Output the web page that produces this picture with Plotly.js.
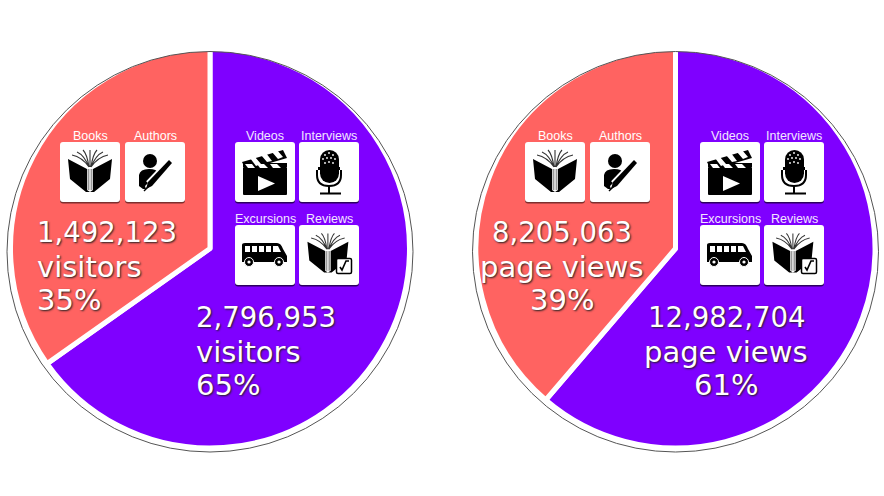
<!DOCTYPE html>
<html><head><meta charset="utf-8">
<script src="https://cdn.plot.ly/plotly-3.0.1.min.js"></script>
<style>html,body{margin:0;padding:0;background:#fff}#c{width:884px;height:496px}</style>
</head><body><div id="c"></div>
<script>
const segments = ['Premium', 'Core'];
const visitors = [2796953, 1492123];
const pageViews = [12982704, 8205063];
const units = ['visitors', 'page views'];
const coreLabels = ['Books', 'Authors'];
const premiumLabels = ['Videos', 'Interviews', 'Excursions', 'Reviews'];
const colors = ['#7f00ff', '#ff6361'];

const W = 884, H = 496;
const px = x => x / W, py = y => 1 - y / H;

const book = (dx, dy, s) => `<g transform="translate(${dx} ${dy}) scale(${s})">
<path d="M8 17L27 27V48L30 50L33 48V27L52 17L50 37L34 50H26L10 37Z" fill="#000"/>
<rect x="27.5" y="27" width="5" height="21" fill="#999"/><rect x="29.3" y="27" width="1.4" height="21" fill="#eee"/>
<g stroke="#333" stroke-width="1.1" fill="none">
<path d="M29 25Q22 15 12 13M29 25Q24 13 17 10M29 25Q27 12 23 8M31 25Q33 12 37 8M31 25Q36 13 43 10M31 25Q38 15 48 13M30 25V8"/></g></g>`;
const glyphs = {
 Books: book(0, 0, 1),
 Authors: `<circle cx="25" cy="19" r="7"/><path d="M14 33Q15 27 24 27Q32 27 33 31L20 44L21 47H18L14 44Z"/>
 <path d="M45 20L24 42" stroke="#fff" stroke-width="8" fill="none"/><path d="M44 18L47 21L27 44L21 47L23 40Z"/>
 <path d="M19 49L31 37" stroke="#000" stroke-width="1.4" fill="none"/>`,
 Videos: `<rect x="8" y="25" width="44" height="28" rx="1"/><path d="M8 21L52 21V25H8Z"/>
 <path d="M7 20L48 8L52 16L11 28Z"/><path d="M15 16L20 15L26 22L21 24ZM26 13L31 11L37 19L32 20ZM37 10L42 8L48 15L43 17Z" fill="#fff"/>
 <path d="M13 26H20L17 22H10ZM25 26H33L29 22H22ZM38 26H46L42 22H35Z" fill="#fff"/>
 <path d="M23 34V49L40 41.5Z" fill="#fff"/>`,
 Interviews: `<rect x="21" y="8" width="19" height="33" rx="9.5"/>
 <path d="M19 25H41V28H19Z"/>
 <g fill="#fff"><circle cx="26" cy="13" r=".9"/><circle cx="30" cy="11" r=".9"/><circle cx="34" cy="13" r=".9"/><circle cx="24" cy="17" r=".9"/><circle cx="28" cy="16" r=".9"/><circle cx="32" cy="16" r=".9"/><circle cx="36" cy="17" r=".9"/><circle cx="26" cy="21" r=".9"/><circle cx="30" cy="20" r=".9"/><circle cx="34" cy="21" r=".9"/></g>
 <path d="M18 28V33Q18 44 30 44Q42 44 42 33V28" fill="none" stroke="#000" stroke-width="2"/>
 <path d="M30 44V51M21 51.5H42" stroke="#000" stroke-width="2" fill="none"/>`,
 Excursions: `<path d="M7 20Q7 18 10 18H42Q46 18 48 24L52 31V37H7Z"/>
 <path d="M10 21H15V27H10ZM17 21H22V27H17ZM24 21H29V27H24ZM31 21H36V27H31ZM38 21H43L46 27H38Z" fill="#fff"/>
 <circle cx="14" cy="37" r="4.5" stroke="#fff"/><circle cx="14" cy="37" r="1.6" fill="#fff"/>
 <circle cx="44" cy="37" r="4.5" stroke="#fff"/><circle cx="44" cy="37" r="1.6" fill="#fff"/>`,
 Reviews: book(1, 1, 0.93) + `<rect x="37.5" y="33.5" width="15" height="15" rx="1.5" fill="#fff" stroke="#000" stroke-width="1.5"/>
 <path d="M41 42L43 45L47 36H50" fill="none" stroke="#000" stroke-width="1.6"/>`
};
const tile = (name, shadow) => 'data:image/svg+xml,' + encodeURIComponent(
 `<svg xmlns="http://www.w3.org/2000/svg" width="60" height="62" viewBox="0 0 60 62">
 <rect x="0" y="1.5" width="60" height="60" rx="3" fill="${shadow}"/>
 <rect x="0" y="0" width="60" height="60" rx="3" fill="#fff"/>${glyphs[name]}</svg>`);

const pies = [
 {values: visitors, cx: 210, cy: 248.5, shift: 0},
 {values: pageViews, cx: 675.5, cy: 248.5, shift: 465}
];
const R = 199.5;
const data = pies.map(p => ({
 type: 'pie', labels: segments, values: p.values, sort: false, direction: 'clockwise', rotation: 0,
 textinfo: 'none', hoverinfo: 'label+value+percent',
 marker: {colors: colors, line: {color: '#fff', width: 5}},
 domain: {x: [px(p.cx - R), px(p.cx + R)], y: [py(p.cy + R), py(p.cy - R)]}
}));

const tilePos = {Books:[60,142], Authors:[125,142], Videos:[235,142], Interviews:[299,142], Excursions:[235,225], Reviews:[299,225]};
const images = [], annotations = [], shapes = [];
const labelFont = c => ({family:'"Liberation Sans",sans-serif', size:12.5, color:c});
const bigFont = s => ({family:'"DejaVu Sans",sans-serif', size:s, color:'#fff', shadow:'1px 1px 2px #222'});

pies.forEach((p, i) => {
 [...coreLabels, ...premiumLabels].forEach(name => {
  const [x, y] = tilePos[name];
  const core = coreLabels.includes(name);
  images.push({source: tile(name, core ? '#7d2f2e' : '#2c0060'), xref:'paper', yref:'paper',
   x: px(x + p.shift), y: py(y), sizex: 60/W, sizey: 62/H, xanchor:'left', yanchor:'top', sizing:'stretch', layer:'above'});
  annotations.push({text: name, xref:'paper', yref:'paper', x: px(x + 30 + p.shift), y: py(y - 6.5),
   showarrow:false, xanchor:'center', yanchor:'middle', font: labelFont(core ? '#fff' : '#f3e6ff')});
 });
 shapes.push({type:'circle', xref:'paper', yref:'paper', layer:'above',
  x0: px(p.cx - 203), x1: px(p.cx + 203), y0: py(452), y1: py(51.5), line:{color:'#555', width:1}});
 const total = p.values[0] + p.values[1];
 const block = (v, x, anchor, top) => {
  const lines = [v.toLocaleString('en-US'), units[i], Math.round(v / total * 100) + '%'];
  lines.forEach((t, k) => annotations.push({
   text: t, xref:'paper', yref:'paper', showarrow:false, yanchor:'middle', xanchor: anchor,
   font: bigFont(k === 0 ? 27.5 : 29), x: px(x), y: py(top + [0, 34.5, 68][k])
  }));
 };
 if (i === 0) {
  block(p.values[1], 35, 'left', 232);
  block(p.values[0], 194, 'left', 317);
 } else {
  block(p.values[1], 562, 'center', 232);
  block(p.values[0], 726, 'center', 317);
 }
});

Plotly.newPlot('c', data, {
 width: W, height: H, margin:{l:0,r:0,t:0,b:0}, showlegend:false,
 paper_bgcolor:'#fff', images, annotations, shapes
}, {displayModeBar:false, staticPlot:true});
</script></body></html>
